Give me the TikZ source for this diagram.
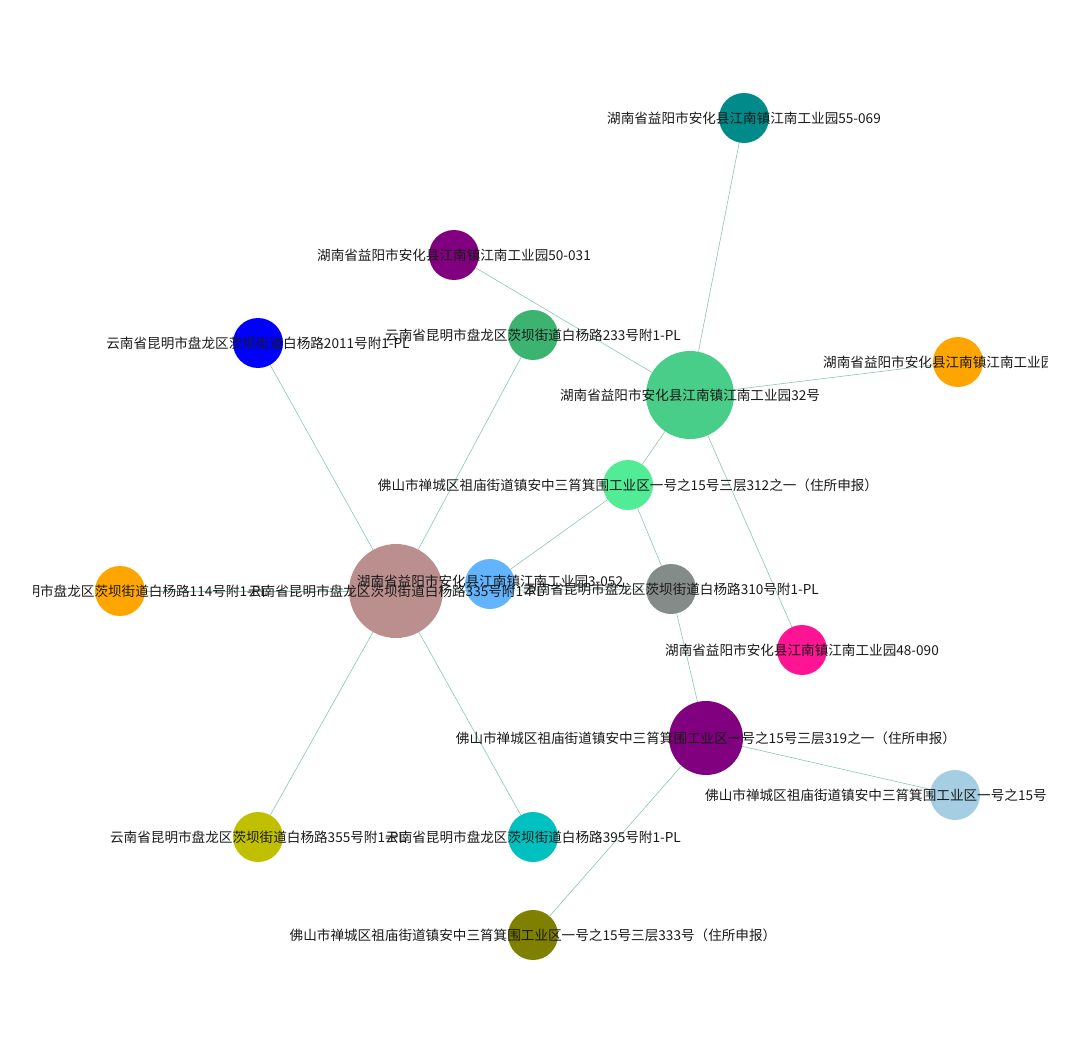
\documentclass[tikz,border=0pt]{standalone}
\usepackage{fontspec}
\newfontfamily\cjk{Noto Sans CJK SC}
\usepackage{tikz}
\usetikzlibrary{backgrounds}

\definecolor{edgec}{RGB}{140,200,170}
\definecolor{cTeal}{RGB}{0,139,139}
\definecolor{cPurple}{RGB}{128,0,128}
\definecolor{cBlue}{RGB}{0,0,255}
\definecolor{cSea}{RGB}{60,179,113}
\definecolor{cGreen}{RGB}{72,206,136}
\definecolor{cOrange}{RGB}{255,165,0}
\definecolor{cMint}{RGB}{82,235,150}
\definecolor{cRosy}{RGB}{188,143,143}
\definecolor{cSky}{RGB}{99,180,255}
\definecolor{cGray}{RGB}{132,140,137}
\definecolor{cPink}{RGB}{255,20,147}
\definecolor{cPale}{RGB}{166,206,227}
\definecolor{cYel}{RGB}{192,192,0}
\definecolor{cCyan}{RGB}{0,192,192}
\definecolor{cOlive}{RGB}{128,128,0}

\begin{document}
\begin{tikzpicture}[
  x=1pt, y=-1pt,
  font=\cjk\fontsize{13.6}{16}\selectfont,
  dot/.style={circle, inner sep=0pt, minimum size=50pt},
  lbl/.style={inner sep=0pt, text=black!90},
  link/.style={draw=edgec, line width=0.6pt}]
\useasboundingbox (0,0) rectangle (1080,1054);
% nodes
\node[dot, fill=cTeal] (n55) at (744,118) {};
\node[dot, fill=cPurple] (n50) at (454,255) {};
\node[dot, fill=cBlue] (b2011) at (258,343) {};
\node[dot, fill=cSea] (b233) at (533,335) {};
\node[dot, fill=cGreen, minimum size=88pt] (n32) at (690,395) {};
\node[dot, fill=cOrange] (nx) at (958,362) {};
\node[dot, fill=cMint] (f312) at (628,485) {};
\node[dot, fill=cRosy, minimum size=94pt] (b335) at (396,591) {};
\node[dot, fill=cOrange] (b114) at (120,591) {};
\node[dot, fill=cSky] (n3) at (490,584) {};
\node[dot, fill=cGray] (b310) at (671,589) {};
\node[dot, fill=cPink] (n48) at (802,650) {};
\node[dot, fill=cPurple, minimum size=74pt] (f319) at (706,738) {};
\node[dot, fill=cPale] (fx) at (955,795) {};
\node[dot, fill=cYel] (b355) at (258,837) {};
\node[dot, fill=cCyan] (b395) at (533,837) {};
\node[dot, fill=cOlive] (f333) at (533,935) {};
% links
\begin{scope}[on background layer]
\draw[link] (b335) -- (b2011);
\draw[link] (b335) -- (b233);
\draw[link] (b335) -- (b114);
\draw[link] (b335) -- (b355);
\draw[link] (b335) -- (b395);
\draw[link] (b335) -- (b310);
\draw[link] (n3) -- (f312);
\draw[link] (n32) -- (n55);
\draw[link] (n32) -- (n50);
\draw[link] (n32) -- (nx);
\draw[link] (n32) -- (f312);
\draw[link] (n32) -- (n48);
\draw[link] (f312) -- (b310);
\draw[link] (b310) -- (f319);
\draw[link] (f319) -- (fx);
\draw[link] (f319) -- (f333);
\end{scope}
% labels
\begin{scope}
\clip (33,0) rectangle (1047,1054);
\node[lbl] (t55) at (n55) {湖南省益阳市安化县江南镇江南工业园55-069};
\node[lbl] (t50) at (n50) {湖南省益阳市安化县江南镇江南工业园50-031};
\node[lbl] (t2011) at (b2011) {云南省昆明市盘龙区茨坝街道白杨路2011号附1-PL};
\node[lbl] (t233) at (b233) {云南省昆明市盘龙区茨坝街道白杨路233号附1-PL};
\node[lbl] (t32) at (n32) {湖南省益阳市安化县江南镇江南工业园32号};
\node[lbl, anchor=west] (tx) at (823,362) {湖南省益阳市安化县江南镇江南工业园};
\node[lbl] (t312) at (f312) {佛山市禅城区祖庙街道镇安中三筲箕围工业区一号之15号三层312之一（住所申报）};
\node[lbl] (t335) at (b335) {云南省昆明市盘龙区茨坝街道白杨路335号附1-PL};
\node[lbl] (t114) at (b114) {云南省昆明市盘龙区茨坝街道白杨路114号附1-PL};
\node[lbl] (t3) at ([yshift=3pt]n3) {湖南省益阳市安化县江南镇江南工业园3-052};
\node[lbl] (t310) at (b310) {云南省昆明市盘龙区茨坝街道白杨路310号附1-PL};
\node[lbl] (t48) at (n48) {湖南省益阳市安化县江南镇江南工业园48-090};
\node[lbl] (t319) at (f319) {佛山市禅城区祖庙街道镇安中三筲箕围工业区一号之15号三层319之一（住所申报）};
\node[lbl, anchor=west] (tfx) at (705,795) {佛山市禅城区祖庙街道镇安中三筲箕围工业区一号之15号};
\node[lbl] (t355) at (b355) {云南省昆明市盘龙区茨坝街道白杨路355号附1-PL};
\node[lbl] (t395) at (b395) {云南省昆明市盘龙区茨坝街道白杨路395号附1-PL};
\node[lbl] (t333) at (f333) {佛山市禅城区祖庙街道镇安中三筲箕围工业区一号之15号三层333号（住所申报）};
\end{scope}
\end{tikzpicture}
\end{document}
